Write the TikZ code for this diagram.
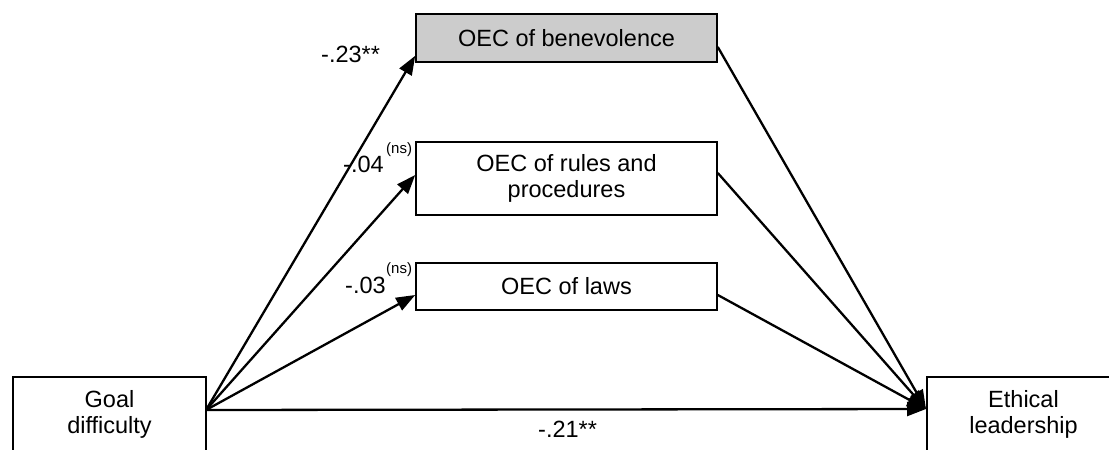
\documentclass[tikz,border=0pt]{standalone}
\usepackage{fontspec}
\setmainfont{Liberation Sans}
\usetikzlibrary{arrows.meta}
\begin{document}
\begin{tikzpicture}[x=1pt,y=-1pt,
  box/.style={draw=black,line width=1.6pt,inner sep=0pt,align=center,
    font=\fontsize{23.5}{26.5}\selectfont},
  midbox/.style={box,minimum width=301pt},
  endbox/.style={box,minimum width=193pt,minimum height=75pt},
  conn/.style={line width=2.3pt,-{Triangle[length=19pt,width=14pt]}},
  lab/.style={inner sep=0pt,anchor=base west,font=\fontsize{23.5}{26}\selectfont},
  sup/.style={inner sep=0pt,anchor=base west,font=\fontsize{15}{17}\selectfont}]
\useasboundingbox (0,0) rectangle (1109,450);
\node[midbox,fill=black!20,minimum height=48pt] (ben) at (566.5,38) {OEC of benevolence};
\node[midbox,minimum height=73pt] (rul) at (566.5,178.5) {OEC of rules and\\procedures};
\node[midbox,minimum height=47pt] (law) at (566.5,286.5) {OEC of laws};
\node[endbox] (goal) at (109.5,414.5) {Goal\\difficulty};
\node[endbox] (eth) at (1023.5,414.5) {Ethical\\leadership};
\coordinate (gs) at (206,410);
\coordinate (et) at (926,409);
\draw[conn] (gs) -- ([yshift=7pt]ben.south west);
\draw[conn] (gs) -- ([yshift=3.5pt]rul.west);
\draw[conn] (gs) -- ([yshift=-8.5pt]law.west);
\draw[conn] (gs) -- (et);
\draw[conn] ([yshift=-9pt]ben.east) -- (et);
\draw[conn] ([yshift=5.5pt]rul.east) -- (et);
\draw[conn] ([yshift=-8.5pt]law.east) -- (et);
\node[lab] (l1) at (321,62) {-.23**};
\node[lab] (l2) at (343,172) {-.04};
\node[sup] (s2) at (386,153) {(ns)};
\node[lab] (l3) at (345,293) {-.03};
\node[sup] (s3) at (386,273) {(ns)};
\node[lab] (l4) at (538,437) {-.21**};
\end{tikzpicture}
\end{document}
